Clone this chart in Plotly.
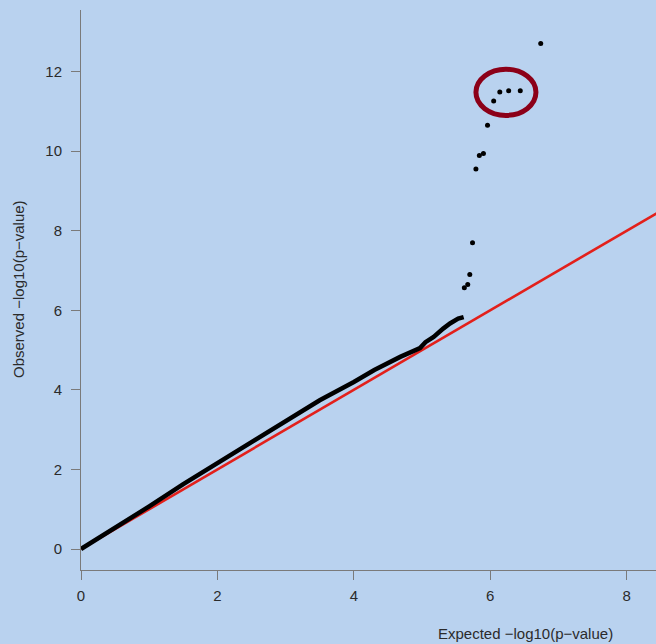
import plotly.graph_objects as go

# Dense QQ curve (expected vs observed -log10 p)
curve_expected = [0, 0.5, 1.0, 1.5, 2.0, 2.5, 3.0, 3.5, 4.0, 4.3, 4.68, 4.97, 5.05, 5.17, 5.31, 5.41, 5.53, 5.61]
curve_observed = [0, 0.53, 1.07, 1.63, 2.16, 2.67, 3.22, 3.74, 4.2, 4.5, 4.83, 5.05, 5.2, 5.33, 5.54, 5.67, 5.79, 5.83]

# Top individual points
top_expected = [5.62, 5.67, 5.70, 5.74, 5.79, 5.84, 5.90, 5.96, 6.05, 6.14, 6.27, 6.44, 6.74]
top_observed = [6.57, 6.65, 6.90, 7.70, 9.55, 9.89, 9.94, 10.65, 11.26, 11.49, 11.52, 11.52, 12.71]

# Reference line y = x
ref_x = [0, 9]
ref_y = [0, 9]

x_ticks = [0, 2, 4, 6, 8]
y_ticks = [0, 2, 4, 6, 8, 10, 12]

BG = "#b9d2ef"
AX = "#7a7a7a"
TXT = "#2b2b2b"
FONT = "Liberation Sans, Arial, sans-serif"

L, T, B = 81, 10, 74
PW, PH = 656 - L, 644 - T - B

fig = go.Figure()
fig.add_trace(go.Scatter(x=ref_x, y=ref_y, mode="lines",
                         line=dict(color="#e3201b", width=2.6), hoverinfo="skip"))
fig.add_trace(go.Scatter(x=curve_expected, y=curve_observed, mode="lines",
                         line=dict(color="black", width=4.5)))
fig.add_trace(go.Scatter(x=top_expected, y=top_observed, mode="markers",
                         marker=dict(color="black", size=5)))

fig.add_shape(type="circle", xref="x", yref="y",
              x0=5.79, x1=6.67, y0=10.90, y1=12.06,
              line=dict(color="#8c0018", width=5))

fig.update_xaxes(range=[0, 8.43], showline=True, linecolor=AX, linewidth=1,
                 ticks="outside", ticklen=9, tickcolor=AX, tickwidth=1,
                 tickvals=x_ticks, showgrid=False, zeroline=False,
                 ticklabelstandoff=3,
                 tickfont=dict(family=FONT, size=15, color=TXT))
fig.update_yaxes(range=[-0.528, 13.55], showline=True, linecolor=AX, linewidth=1,
                 ticks="outside", ticklen=9, tickcolor=AX, tickwidth=1,
                 tickvals=y_ticks, showgrid=False, zeroline=False,
                 ticklabelstandoff=6,
                 tickfont=dict(family=FONT, size=15, color=TXT))

fig.add_annotation(text="Expected \u2212log10(p\u2212value)", xref="paper", yref="paper",
                   x=(525 - L) / PW, y=-(633 - (644 - B)) / PH, showarrow=False,
                   font=dict(family=FONT, size=15, color=TXT), xanchor="center", yanchor="middle")
fig.add_annotation(text="Observed \u2212log10(p\u2212value)", xref="paper", yref="paper",
                   x=-(L - 18) / PW, y=((644 - B) - 289) / PH, showarrow=False, textangle=-90,
                   font=dict(family=FONT, size=15, color=TXT), xanchor="center", yanchor="middle")

fig.update_layout(width=656, height=644, showlegend=False,
                  paper_bgcolor=BG, plot_bgcolor=BG,
                  margin=dict(l=L, r=0, t=T, b=B))

fig.write_html("out.html", config={"displayModeBar": False},
               post_script="document.body.style.margin='0';document.body.style.background='" + BG + "';")
